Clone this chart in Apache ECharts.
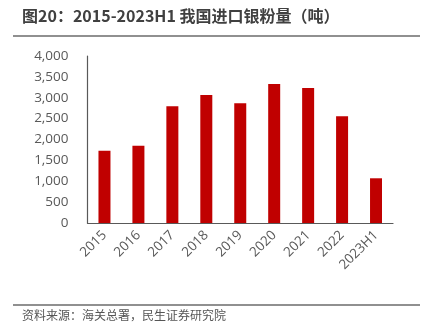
<!DOCTYPE html>
<html><head><meta charset="utf-8">
<script src="https://cdn.jsdelivr.net/npm/echarts@6/dist/echarts.min.js"></script>
<style>html,body{margin:0;padding:0;background:#fff}#c{width:431px;height:332px}</style>
</head><body><div id="c"></div>
<script>
const categories = ['2015','2016','2017','2018','2019','2020','2021','2022','2023H1'];
const values = [1732, 1852, 2795, 3066, 2867, 3329, 3234, 2556, 1071];
const yTicks = [0, 500, 1000, 1500, 2000, 2500, 3000, 3500, 4000];
const titleText = '图20：2015-2023H1 我国进口银粉量（吨）';
const sourceText = '资料来源：海关总署，民生证券研究院';

const chart = echarts.init(document.getElementById('c'), null, {renderer:'canvas'});
chart.setOption({
  animation: false,
  grid: {left: 87.5, right: 38, top: 56, bottom: 109},
  xAxis: {
    type: 'category', data: categories,
    axisLine: {lineStyle: {color: '#595959', width: 1.2}},
    axisTick: {show: false},
    axisLabel: {rotate: 45, color: '#595959', fontSize: 13.5, fontFamily: 'Open Sans, sans-serif', margin: 10, interval: 0}
  },
  yAxis: {
    type: 'value', min: yTicks[0], max: yTicks[yTicks.length-1], interval: 500,
    axisLine: {show: true, lineStyle: {color: '#595959', width: 1.2}},
    axisTick: {show: false},
    splitLine: {show: false},
    axisLabel: {color: '#595959', fontSize: 13.5, fontFamily: 'Open Sans, sans-serif', margin: 19,
      formatter: v => v.toLocaleString('en-US')}
  },
  series: [{
    type: 'bar', data: values, barWidth: 12,
    itemStyle: {color: '#C00000'}
  }],
  graphic: [
    {type: 'text', left: 22, top: 8, style: {text: titleText, font: 'bold 16px "Noto Sans CJK SC", sans-serif', fill: '#404040'}},
    {type: 'line', shape: {x1: 13, y1: 36, x2: 420, y2: 36}, style: {stroke: '#6b6b6b', lineWidth: 1.5}},
    {type: 'line', shape: {x1: 13, y1: 305, x2: 420, y2: 305}, style: {stroke: '#6b6b6b', lineWidth: 1.5}},
    {type: 'text', left: 22, top: 309, style: {text: sourceText, font: '12px "Noto Sans CJK SC", sans-serif', fill: '#555555'}}
  ]
});
</script></body></html>
